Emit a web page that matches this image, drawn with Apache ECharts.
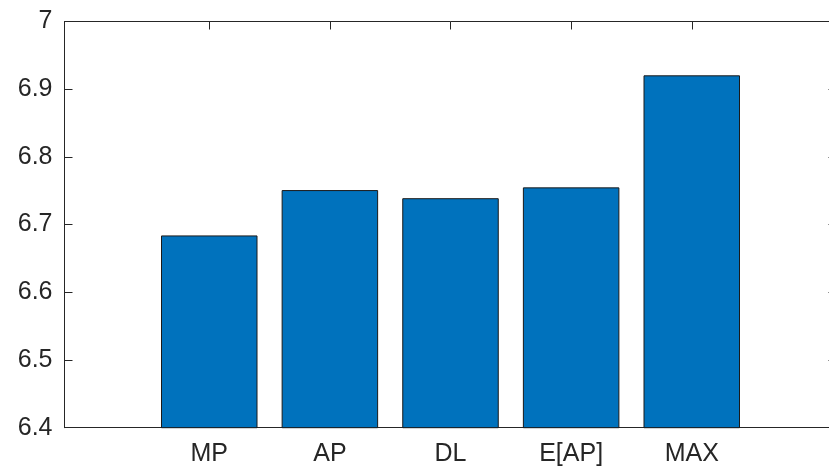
<!DOCTYPE html>
<html>
<head>
<meta charset="utf-8">
<script src="https://cdn.jsdelivr.net/npm/echarts@6/dist/echarts.min.js"></script>
<style>html,body{margin:0;padding:0;background:#fff;overflow:hidden;}#c{width:845px;height:474px;}</style>
</head>
<body>
<div id="c"></div>
<script>
const categories = ['MP', 'AP', 'DL', 'E[AP]', 'MAX'];
const values = [6.684, 6.751, 6.739, 6.755, 6.9205];
const yTicks = [6.4, 6.5, 6.6, 6.7, 6.8, 6.9, 7];

const positions = categories.map((c, i) => i + 1);
const data = values.map((v, i) => [positions[i], v]);
const axisColor = '#262626';
const font = 'Liberation Sans, Arial, Helvetica, sans-serif';

const chart = echarts.init(document.getElementById('c'));
const xBase = {
  type: 'value', min: -0.2, max: 6.2,
  splitLine: { show: false },
  axisLine: { show: true, onZero: false, lineStyle: { color: axisColor, width: 1 } },
  axisTick: { show: true, inside: true, length: 8, customValues: positions, lineStyle: { color: axisColor, width: 1 } }
};
const yBase = {
  type: 'value', min: 6.4, max: 7, interval: 0.1,
  splitLine: { show: false },
  axisLine: { show: true, onZero: false, lineStyle: { color: axisColor, width: 1 } },
  axisTick: { show: true, inside: true, length: 8, lineStyle: { color: axisColor, width: 1 } }
};
chart.setOption({
  animation: false,
  grid: { left: 64.5, top: 21.5, width: 772, height: 406.2, containLabel: false },
  xAxis: [
    Object.assign({}, xBase, {
      position: 'bottom',
      axisLabel: {
        show: true, customValues: positions, margin: 14,
        color: axisColor, fontSize: 25, fontFamily: font,
        formatter: v => categories[Math.round(v) - 1] || ''
      }
    }),
    Object.assign({}, xBase, { position: 'top', axisLabel: { show: false } })
  ],
  yAxis: [
    Object.assign({}, yBase, {
      position: 'left',
      axisLabel: {
        show: true, margin: 12, color: axisColor, fontSize: 25, fontFamily: font,
        formatter: v => {
          const r = Math.round(v * 10) / 10;
          return yTicks.indexOf(r) >= 0 ? String(r) : '';
        }
      }
    }),
    Object.assign({}, yBase, { position: 'right', axisLabel: { show: false } })
  ],
  series: [{
    type: 'bar',
    data: data,
    barWidth: 96.5,
    itemStyle: { color: '#0072BD', borderColor: '#1a1a1a', borderWidth: 1 },
    clip: true
  }]
});
</script>
</body>
</html>
